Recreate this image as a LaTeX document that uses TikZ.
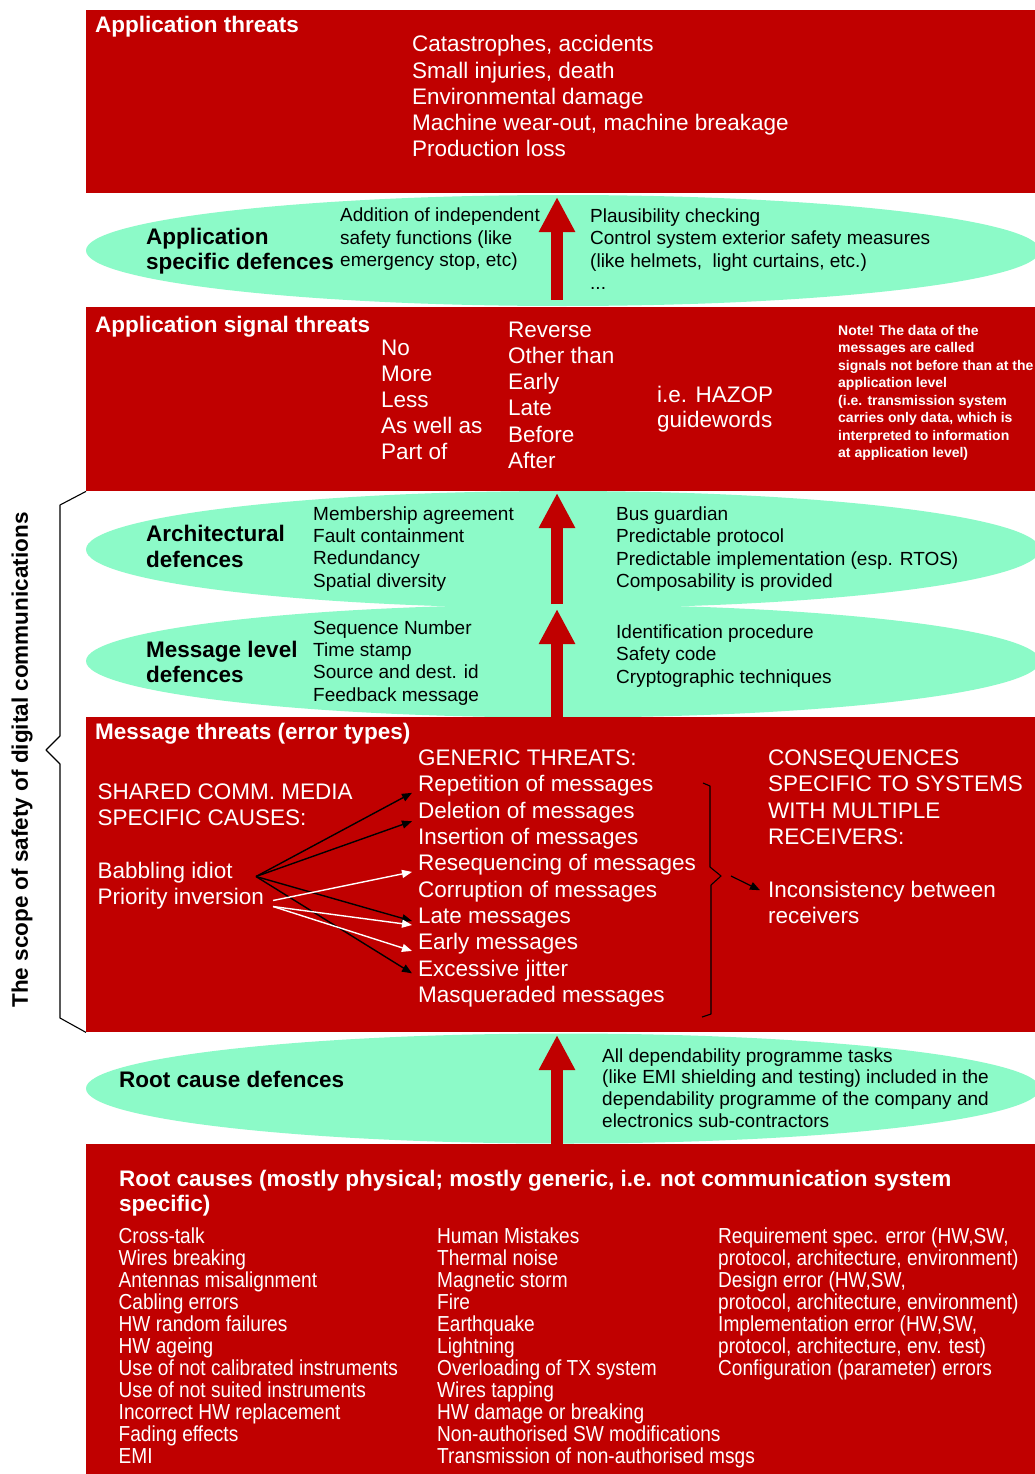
\documentclass[tikz,border=0pt]{standalone}
\usepackage{fontspec}
\setmainfont{Liberation Sans}
\newfontfamily\narrowsans[FakeStretch=0.88]{Liberation Sans}
\usetikzlibrary{arrows.meta,shapes.geometric}
\definecolor{threatred}{RGB}{192,0,0}
\definecolor{defgreen}{RGB}{140,250,200}
% stacked lines with a fixed baseline distance; the block's baseline is its first line
\newcommand\lnbreak{\egroup\hbox\bgroup}
\newcommand\lns[1]{\vtop{\lineskiplimit=-1000pt\lineskip=0pt\let\\\lnbreak\hbox\bgroup#1\egroup}}
\tikzset{
  redbox/.style={rectangle, fill=threatred, draw=none, inner sep=0pt, anchor=north west, minimum width=954pt},
  defoval/.style={ellipse, fill=defgreen, draw=none, inner sep=0pt, minimum width=954pt},
  wtxt/.style={text=white, inner sep=0pt, anchor=base west},
  btxt/.style={text=black, inner sep=0pt, anchor=base west},
  headfont/.style={font={\bfseries\fontsize{22.5}{25.5}\selectfont}},
  bodyfont/.style={font={\fontsize{22.5}{26.3}\selectfont}},
  listfont/.style={font={\fontsize{19}{22.4}\selectfont}},
  notefont/.style={font={\bfseries\fontsize{14}{17.5}\selectfont}},
  causefont/.style={font={\narrowsans\fontsize{21.7}{21.95}\selectfont}},
  uparrow/.style={draw=threatred, line width=12pt, -{Triangle[width=34pt,length=35pt]}},
  causearrow/.style={line width=1.4pt, -{Triangle[width=8pt,length=10pt]}},
  bracket/.style={draw=black, line width=1.1pt, line join=round},
}
\begin{document}
\begin{tikzpicture}[x=1pt,y=-1pt]
\useasboundingbox (0,0) rectangle (1035,1474);
\fill[white] (0,0) rectangle (1035,1474);

% defence layers
\node[defoval, minimum height=111pt] (appdef) at (563,250.5) {};
\node[defoval, minimum height=117pt] (archdef) at (563,549.5) {};
\node[defoval, minimum height=113pt] (msgdef) at (563,661) {};
\node[defoval, minimum height=110pt] (rootdef) at (563,1088.5) {};

% threat layers
\node[redbox, minimum height=183pt] (appth) at (86,10) {};
\node[redbox, minimum height=184pt] (sigth) at (86,307) {};
\node[redbox, minimum height=315pt] (msgth) at (86,717) {};
\node[redbox, minimum height=340pt] (rootth) at (86,1144) {};

% upward arrows through the defences
\coordinate (a1s) at (557,300);  \coordinate (a1e) at (557,197);
\coordinate (a2s) at (557,604);  \coordinate (a2e) at (557,493);
\coordinate (a3s) at (557,722);  \coordinate (a3e) at (557,609);
\coordinate (a4s) at (557,1150); \coordinate (a4e) at (557,1035);
\draw[uparrow] (a1s) -- (a1e);
\draw[uparrow] (a2s) -- (a2e);
\draw[uparrow] (a3s) -- (a3e);
\draw[uparrow] (a4s) -- (a4e);

% application threats
\node[wtxt, headfont] (appthh) at (95,33) {Application threats};
\node[wtxt, font={\fontsize{22.5}{26.2}\selectfont}] (appthl) at (412,52)
  {\lns{Catastrophes, accidents\\Small injuries, death\\Environmental damage\\Machine wear-out, machine breakage\\Production loss}};

% application specific defences
\node[btxt, headfont] (appdefh) at (146,244) {\lns{Application\\specific defences}};
\node[btxt, listfont] (appdefl) at (340,222)
  {\lns{Addition of independent\\safety functions (like\\emergency stop, etc)}};
\node[btxt, listfont] (appdefr) at (590,222.5)
  {\lns{Plausibility checking\\Control system exterior safety measures\\(like helmets,\ \ light curtains, etc.)\\...}};

% application signal threats
\node[wtxt, headfont] (sigthh) at (95,332) {Application signal threats};
\node[wtxt, font={\fontsize{22.5}{26}\selectfont}] (sigw1) at (381,355)
  {\lns{No\\More\\Less\\As well as\\Part of}};
\node[wtxt, bodyfont] (sigw2) at (508,337)
  {\lns{Reverse\\Other than\\Early\\Late\\Before\\After}};
\node[wtxt, font={\fontsize{22.5}{25}\selectfont}] (hazop) at (657,402) {\lns{i.e. HAZOP\\guidewords}};
\node[wtxt, notefont] (note) at (838,335)
  {\lns{Note! The data of the\\messages are called\\signals not before than at the\\application level\\(i.e. transmission system\\carries only data, which is\\interpreted to information\\at application level)}};

% architectural defences
\node[btxt, font={\bfseries\fontsize{22.5}{26}\selectfont}] (archh) at (146,541) {\lns{Architectural\\defences}};
\node[btxt, listfont] (archl) at (313,520)
  {\lns{Membership agreement\\Fault containment\\Redundancy\\Spatial diversity}};
\node[btxt, listfont] (archr) at (616,520.5)
  {\lns{Bus guardian\\Predictable protocol\\Predictable implementation (esp. RTOS)\\Composability is provided}};

% message level defences
\node[btxt, headfont] (msgdefh) at (146,657) {\lns{Message level\\defences}};
\node[btxt, listfont] (msgdefl) at (313,634)
  {\lns{Sequence Number\\Time stamp\\Source and dest. id\\Feedback message}};
\node[btxt, listfont] (msgdefr) at (616,638.5)
  {\lns{Identification procedure\\Safety code\\Cryptographic techniques}};

% message threats
\node[wtxt, headfont] (msgthh) at (95,739.5) {Message threats (error types)};
\node[wtxt, bodyfont] (shared) at (97.5,799.5) {\lns{SHARED COMM. MEDIA\\SPECIFIC CAUSES:}};
\node[wtxt, bodyfont] (bab) at (97.5,878) {Babbling idiot};
\node[wtxt, bodyfont] (pri) at (97.5,904) {Priority inversion};
\node[wtxt, bodyfont] (generic) at (418,765.5) {GENERIC THREATS:};
\foreach \nm/\txt [count=\i] in {g1/Repetition of messages, g2/Deletion of messages,
    g3/Insertion of messages, g4/Resequencing of messages, g5/Corruption of messages,
    g6/Late messages, g7/Early messages, g8/Excessive jitter, g9/Masqueraded messages}
  \node[wtxt, bodyfont] (\nm) at (418,{765.5+26.35*\i}) {\txt};
\node[wtxt, bodyfont] (conseq) at (768,765.5)
  {\lns{CONSEQUENCES\\SPECIFIC TO SYSTEMS\\WITH MULTIPLE\\RECEIVERS:}};
\node[wtxt, bodyfont] (incons) at (768,897.25) {\lns{Inconsistency between\\receivers}};

% causes acting on the generic threats
\coordinate (babsrc) at (256,876.5);
\coordinate (prisrc1) at (273,900.5);
\coordinate (prisrc2) at (273,906.5);
\draw[causearrow, black] (babsrc) -- ([xshift=-6pt,yshift=-1pt]g1.base west);
\draw[causearrow, black] (babsrc) -- ([xshift=-6pt,yshift=-3pt]g2.base west);
\draw[causearrow, black] (babsrc) -- ([xshift=-6pt,yshift=2.6pt]g6.base west);
\draw[causearrow, black] (babsrc) -- ([xshift=-6pt,yshift=3pt]g8.base west);
\draw[causearrow, white] (prisrc1) -- ([xshift=-6pt,yshift=-1pt]g4.base west);
\draw[causearrow, white] (prisrc2) -- ([xshift=-6pt,yshift=-1.4pt]g6.base west);
\draw[causearrow, white] (prisrc2) -- ([xshift=-6pt,yshift=-1pt]g7.base west);

% brace grouping the generic threats
\draw[bracket] (703,783) -- (710,786) -- (710,867) -- (721,876) -- (711,885) -- (711,1014) -- (702,1017);
\coordinate (bracetip) at (731,876);
\draw[causearrow, black, line width=1.2pt] (bracetip) -- ([xshift=-8pt,yshift=7pt]incons.base west);

% root cause defences
\node[btxt, headfont] (rootdefh) at (119,1087.5) {Root cause defences};
\node[btxt, font={\fontsize{19}{21.8}\selectfont}] (rootdefl) at (602,1062)
  {\lns{All dependability programme tasks\\(like EMI shielding and testing) included in the\\dependability programme of the company and\\electronics sub-contractors}};

% root causes
\node[wtxt, font={\bfseries\fontsize{22.5}{25.8}\selectfont}] (rooth) at (119,1186)
  {\lns{Root causes (mostly physical; mostly generic, i.e. not communication system\\specific)}};
\node[wtxt, causefont] (rc1) at (118.5,1243.5)
  {\lns{Cross-talk\\Wires breaking\\Antennas misalignment\\Cabling errors\\HW random failures\\HW ageing\\Use of not calibrated instruments\\Use of not suited instruments\\Incorrect HW replacement\\Fading effects\\EMI}};
\node[wtxt, causefont] (rc2) at (437,1243.5)
  {\lns{Human Mistakes\\Thermal noise\\Magnetic storm\\Fire\\Earthquake\\Lightning\\Overloading of TX system\\Wires tapping\\HW damage or breaking\\Non-authorised SW modifications\\Transmission of non-authorised msgs}};
\node[wtxt, causefont] (rc3) at (718,1243.5)
  {\lns{Requirement spec. error (HW,SW,\\protocol, architecture, environment)\\Design error (HW,SW,\\protocol, architecture, environment)\\Implementation error (HW,SW,\\protocol, architecture, env. test)\\Configuration (parameter) errors}};

% scope of digital communication safety
\draw[bracket] (sigth.south west) -- (60,505) -- (60,736) -- (46,750) -- (60,764) -- (60,1018) -- (msgth.south west);
\node[rotate=90, inner sep=0pt, font={\bfseries\fontsize{22.5}{26}\selectfont}] (scopelbl) at (22,760)
  {The scope of safety of digital communications};
\end{tikzpicture}
\end{document}
